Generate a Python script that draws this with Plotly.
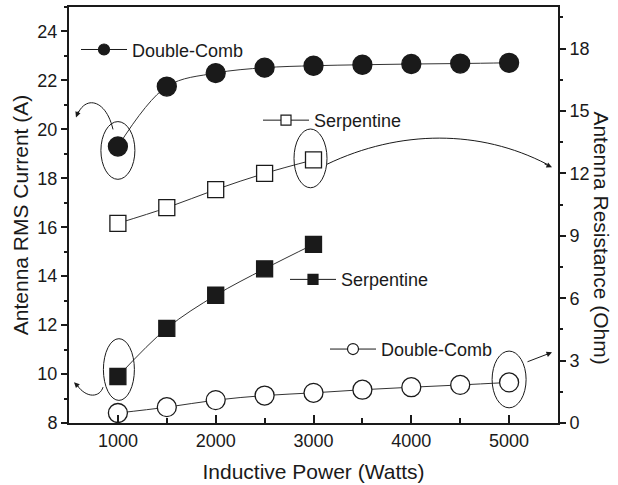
import plotly.graph_objects as go

# ---------------- data ----------------
power = [1000, 1500, 2000, 2500, 3000, 3500, 4000, 4500, 5000]
power_serp = [1000, 1500, 2000, 2500, 3000]
dc_current = [19.3, 21.75, 22.3, 22.52, 22.6, 22.64, 22.67, 22.69, 22.72]
serp_current = [9.9, 11.87, 13.22, 14.3, 15.3]
serp_res = [9.6, 10.35, 11.22, 12.0, 12.65]
dc_res = [0.48, 0.76, 1.1, 1.32, 1.45, 1.6, 1.72, 1.83, 1.95]

x_ticks = [1000, 2000, 3000, 4000, 5000]
labels = ["Double-Comb", "Serpentine", "Serpentine", "Double-Comb"]

# ---------------- geometry ----------------
W, H = 618, 485
ML, MR, MT, MB = 69, 60, 5, 62
PW, PH = W - ML - MR, H - MT - MB
XR = [500, 5500]
YR = [8, 25]
Y2R = [0, 20]

def px2x(px):
    return XR[0] + (px - ML) / PW * (XR[1] - XR[0])

def py2y(py):
    return YR[0] + (MT + PH - py) / PH * (YR[1] - YR[0])

def py2y2(py):
    return Y2R[0] + (MT + PH - py) / PH * (Y2R[1] - Y2R[0])

XS = PW / (XR[1] - XR[0])
YS = PH / (YR[1] - YR[0])
Y2S = PH / (Y2R[1] - Y2R[0])

FONT = "Liberation Sans, Arial, sans-serif"
INK = "#1a1a1a"
LINE = "#333333"

fig = go.Figure()

series = [
    (power, dc_current, "y", "circle", 19, INK, "legend"),
    (power_serp, serp_res, "y2", "square", 16, "white", "legend2"),
    (power_serp, serp_current, "y", "square", 16, INK, "legend3"),
    (power, dc_res, "y2", "circle", 19, "white", "legend4"),
]
for (xs, ys, yax, sym, size, fill, lg), name in zip(series, labels):
    # data trace
    fig.add_trace(go.Scatter(
        x=xs, y=ys, name=name, mode="lines+markers", yaxis=yax, showlegend=False,
        line=dict(color=LINE, width=1, shape="spline"),
        marker=dict(symbol=sym, size=size, color=fill, line=dict(color=INK, width=1.3))))
    # legend sample (smaller symbol, as in the original figure)
    fig.add_trace(go.Scatter(
        x=[None], y=[None], name=name, mode="lines+markers", yaxis=yax, legend=lg,
        line=dict(color=INK, width=1),
        marker=dict(symbol=sym, size=11 if sym == "circle" else 10, color=fill,
                    line=dict(color=INK, width=1.2))))

# ---------------- ellipses around highlighted points ----------------
def ellipse(xc, yc, yscale, yref, hw, hh, dx=0, dy=0):
    cx = xc + dx / XS
    cy = yc - dy / yscale
    return dict(type="circle", xref="x", yref=yref,
                x0=cx - hw / XS, x1=cx + hw / XS,
                y0=cy - hh / yscale, y1=cy + hh / yscale,
                line=dict(color=INK, width=1))

shapes = [
    ellipse(power[0], dc_current[0], YS, "y", 17, 29, 0, 4),
    ellipse(power_serp[-1], serp_res[-1], Y2S, "y2", 16.5, 29.5, -3, -1.5),
    ellipse(power_serp[0], serp_current[0], YS, "y", 15.5, 31, 1, -7),
    ellipse(power[-1], dc_res[-1], Y2S, "y2", 17, 28.5, 0, -3),
]

# ---------------- curved arrows (pixel-defined decorations) ----------------
def cpath(pts, yconv):
    (x0, y0), (x1, y1), (x2, y2), (x3, y3) = pts
    return (f"M{px2x(x0)},{yconv(y0)} C{px2x(x1)},{yconv(y1)} "
            f"{px2x(x2)},{yconv(y2)} {px2x(x3)},{yconv(y3)}")

arrow_paths = [
    ([(113, 128), (106, 98), (86, 94), (78, 112)], py2y, "y"),
    ([(327, 163), (400, 128), (480, 128), (547, 163)], py2y2, "y2"),
    ([(103, 387), (100, 397), (87, 399), (77, 385)], py2y, "y"),
]
for pts, conv, yref in arrow_paths:
    shapes.append(dict(type="path", xref="x", yref=yref, path=cpath(pts, conv),
                       line=dict(color=INK, width=1)))

annotations = []
heads = [
    (76, 116, 3, -8, py2y, "y"),
    (552, 166, -9, -4, py2y2, "y2"),
    (74, 382, 6, 6, py2y, "y"),
    (552, 352, -26, 10, py2y2, "y2"),
]
for hx, hy, ax, ay, conv, yref in heads:
    annotations.append(dict(x=px2x(hx), y=conv(hy), xref="x", yref=yref,
                            ax=ax, ay=ay, text="", showarrow=True,
                            arrowhead=2, arrowsize=1.1, arrowwidth=1, arrowcolor=INK))

tickfont = dict(family=FONT, size=18, color=INK)
titlefont = dict(family=FONT, size=21, color=INK)

# right-hand axis title reads top-to-bottom in the original
annotations.append(dict(text="Antenna Resistance (Ohm)", textangle=90, showarrow=False,
                        xref="paper", yref="paper", x=(602 - ML) / PW, y=(MT + PH - 236.5) / PH,
                        xanchor="center", yanchor="middle", font=titlefont))

def leg(px, py):
    return dict(x=(px - ML) / PW, y=(MT + PH - py) / PH, xanchor="left", yanchor="middle",
                bgcolor="rgba(0,0,0,0)", borderwidth=0, itemwidth=46,
                font=dict(family=FONT, size=18, color=INK))

fig.update_layout(
    width=W, height=H,
    margin=dict(l=ML, r=MR, t=MT, b=MB),
    paper_bgcolor="white", plot_bgcolor="white",
    showlegend=True,
    legend=leg(76, 48),
    legend2=leg(258, 119),
    legend3=leg(285, 279),
    legend4=leg(325, 349),
    xaxis=dict(range=XR, tickvals=x_ticks, ticks="inside", ticklen=8, tickwidth=1.5,
               tickcolor=INK, showline=True, linewidth=2, linecolor=INK, mirror=True,
               showgrid=False, zeroline=False, tickfont=tickfont,
               minor=dict(dtick=500, tick0=0, ticks="inside", ticklen=5, tickwidth=1.5, tickcolor=INK),
               title=dict(text="Inductive Power (Watts)", font=titlefont, standoff=15)),
    yaxis=dict(range=YR, dtick=2, tick0=0, ticks="outside", ticklen=6, tickwidth=1.5,
               tickcolor=INK, showline=True, linewidth=2, linecolor=INK,
               showgrid=False, zeroline=False, tickfont=tickfont,
               minor=dict(dtick=1, tick0=0, ticks="outside", ticklen=3, tickwidth=1.5, tickcolor=INK),
               title=dict(text="Antenna RMS Current (A)", font=titlefont, standoff=3)),
    yaxis2=dict(range=Y2R, dtick=3, tick0=0, overlaying="y", side="right",
                ticks="outside", ticklen=6, tickwidth=1.5, tickcolor=INK,
                showline=True, linewidth=2, linecolor=INK,
                showgrid=False, zeroline=False, tickfont=tickfont,
                minor=dict(dtick=1.5, tick0=0, ticks="outside", ticklen=3, tickwidth=1.5, tickcolor=INK)),
    shapes=shapes,
    annotations=annotations,
)

fig.write_html("out.html")
